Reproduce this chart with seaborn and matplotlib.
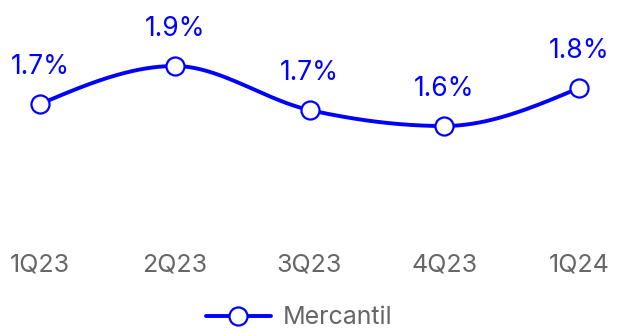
import numpy as np
import pandas as pd
import matplotlib
matplotlib.use("Agg")
import matplotlib.pyplot as plt
from matplotlib.lines import Line2D
import seaborn as sns

quarters = ["1Q23", "2Q23", "3Q23", "4Q23", "1Q24"]
mercantil = [1.71, 1.90, 1.68, 1.60, 1.79]
series_name = "Mercantil"

BLUE = "#0000ff"
GREY = "#666666"


def monotone_curve(x, y, n=60):
    """Monotone cubic (Steffen) interpolation, sampled n points per segment."""
    x = np.asarray(x, float)
    y = np.asarray(y, float)
    h = np.diff(x)
    s = np.diff(y) / h
    m = np.zeros_like(y)
    for k in range(1, len(y) - 1):
        p = (s[k - 1] * h[k] + s[k] * h[k - 1]) / (h[k - 1] + h[k])
        m[k] = (np.sign(s[k - 1]) + np.sign(s[k])) * min(abs(s[k - 1]), abs(s[k]), 0.5 * abs(p))
    m[0] = (3 * s[0] - m[1]) / 2
    m[-1] = (3 * s[-1] - m[-2]) / 2
    xs, ys = [], []
    for k in range(len(h)):
        t = np.linspace(0, 1, n, endpoint=(k == len(h) - 1))
        h00 = 2 * t**3 - 3 * t**2 + 1
        h10 = t**3 - 2 * t**2 + t
        h01 = -2 * t**3 + 3 * t**2
        h11 = t**3 - t**2
        xs.append(x[k] + t * h[k])
        ys.append(h00 * y[k] + h10 * h[k] * m[k] + h01 * y[k + 1] + h11 * h[k] * m[k + 1])
    return np.concatenate(xs), np.concatenate(ys)


sns.set_theme(style="white")
plt.rcParams["font.family"] = ["Inter", "DejaVu Sans"]

pos = np.arange(len(quarters))
df = pd.DataFrame({"pos": pos, "value": mercantil})
cx, cy = monotone_curve(pos, mercantil)
curve = pd.DataFrame({"pos": cx, "value": cy})

fig = plt.figure(figsize=(6.17, 3.32), dpi=100)
ax = fig.add_axes([0, 0.262, 1, 0.738])

sns.lineplot(data=curve, x="pos", y="value", ax=ax, color=BLUE, linewidth=2.8,
             sort=False, estimator=None)
ax.plot(df["pos"], df["value"], linestyle="none", marker="o", markersize=13,
        markerfacecolor="white", markeredgecolor=BLUE, markeredgewidth=1.6, zorder=5)

for xi, v in zip(pos, mercantil):
    ax.annotate(f"{v:.1f}%", (xi, v), xytext=(0, 27), textcoords="offset points",
                ha="center", va="center", color=BLUE, fontsize=19)

ax.set_xlim(-40 / 134.75, 4 + 38 / 134.75)
ax.set_ylim(1.005, 2.23)
ax.set_xticks(pos)
ax.set_xticklabels(quarters, color=GREY, fontsize=18)
ax.tick_params(axis="x", length=0, pad=6)
ax.set_yticks([])
ax.set_xlabel("")
ax.set_ylabel("")
for sp in ax.spines.values():
    sp.set_visible(False)

handle = Line2D([], [], color=BLUE, linewidth=2.8, marker="o", markersize=13,
                markerfacecolor="white", markeredgecolor=BLUE, markeredgewidth=1.6)
leg = fig.legend([handle], [series_name], loc="lower center", bbox_to_anchor=(0.485, -0.06),
                 frameon=False, fontsize=18, handlelength=2.6, handletextpad=0.5)
for t in leg.get_texts():
    t.set_color(GREY)

fig.savefig("out.png", dpi=100)
